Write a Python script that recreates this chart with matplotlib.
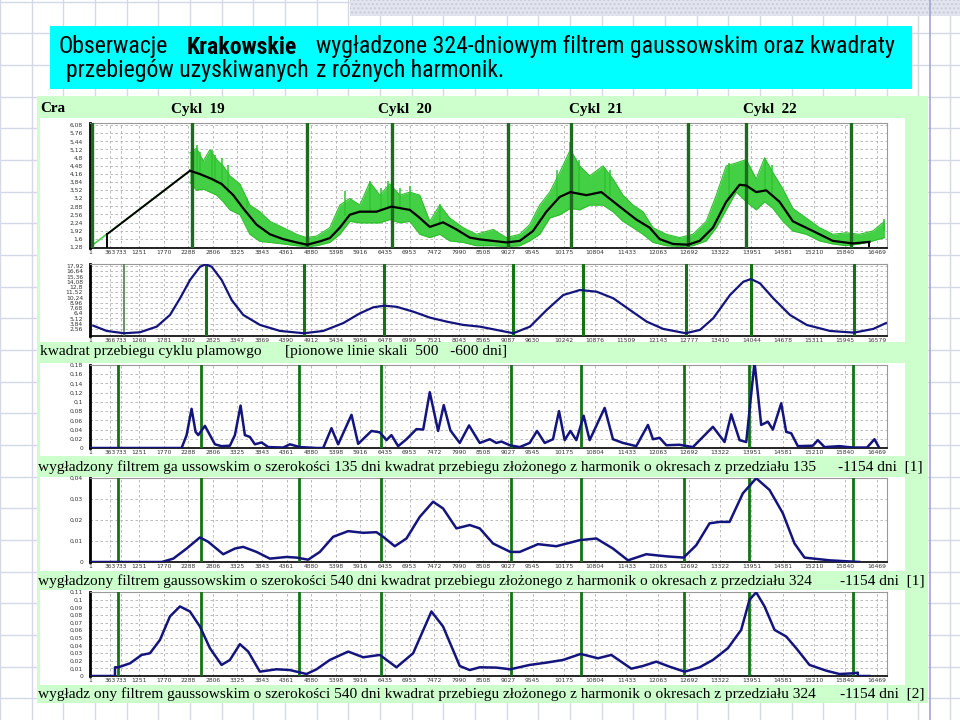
import numpy as np
import matplotlib
matplotlib.use("Agg")
import matplotlib.pyplot as plt
from matplotlib.patches import Rectangle
from matplotlib import font_manager as fm

# ---------------- text ----------------
title_l1 = ["Obserwacje", "Krakowskie", "wygładzone 324-dniowym filtrem gaussowskim oraz kwadraty"]
title_l2 = ["przebiegów uzyskiwanych", "z różnych harmonik."]
header_left = "Cra"
header_cycles = ["Cykl  19", "Cykl  20", "Cykl  21", "Cykl  22"]
row2_a = "kwadrat przebiegu cyklu plamowgo"
row2_b = "[pionowe linie skali  500   -600 dni]"
row3_a = "wygładzony filtrem ga ussowskim o szerokości 135 dni kwadrat przebiegu złożonego z harmonik o okresach z przedziału 135"
row3_b = "-1154 dni  [1]"
row4_a = "wygładzony filtrem gaussowskim o szerokości 540 dni kwadrat przebiegu złożonego z harmonik o okresach z przedziału 324"
row4_b = "-1154 dni  [1]"
row5_a = "wygładz ony filtrem gaussowskim o szerokości 540 dni kwadrat przebiegu złożonego z harmonik o okresach z przedziału 324"
row5_b = "-1154 dni  [2]"

# ---------------- axes ticks ----------------
xtick_labels_a = ["1", "363", "733", "1251", "1770", "2288", "2806", "3325", "3843", "4361", "4880",
                  "5398", "5916", "6435", "6953", "7472", "7990", "8508", "9027", "9545", "10175",
                  "10804", "11433", "12063", "12692", "13322", "13951", "14581", "15210", "15840", "16469"]
xtick_labels_b = ["1", "366", "733", "1260", "1781", "2302", "2825", "3347", "3869", "4390", "4912",
                  "5434", "5956", "6478", "6999", "7521", "8043", "8565", "9087", "9630", "10242",
                  "10876", "11509", "12143", "12777", "13410", "14044", "14678", "15311", "15945", "16579"]
xtick_days = [0, 420, 650, 1028, 1544, 2060, 2576, 3092, 3608, 4124, 4640, 5156, 5672, 6188, 6704,
              7220, 7737, 8253, 8769, 9285, 9941, 10596, 11252, 11909, 12565, 13220, 13877, 14533,
              15190, 15844, 16501]

p1_yticks = [1.28, 1.60, 1.92, 2.24, 2.56, 2.88, 3.20, 3.52, 3.84, 4.16, 4.48, 4.80, 5.12, 5.44, 5.76, 6.08]
p2_yticks = [2.56, 3.84, 5.12, 6.40, 7.68, 8.96, 10.24, 11.52, 12.80, 14.08, 15.36, 16.64, 17.92]
p3_yticks = [0, 0.02, 0.04, 0.06, 0.08, 0.10, 0.12, 0.14, 0.16, 0.18]
p4_yticks = [0, 0.01, 0.02, 0.03, 0.04]
p5_yticks = [0, 0.01, 0.02, 0.03, 0.04, 0.05, 0.06, 0.07, 0.08, 0.09, 0.10, 0.11]

# ---------------- panel 1: observations (days, values) ----------------
p1_ramp_days = [35, 2096]
p1_ramp_vals = [1.33, 4.28]
p1_start_day = 356
p1_start_val = 1.78
p1_end_day = 16352
p1_end_val = 1.48
p1_smooth_days = [2096, 2306, 2551, 2760, 3005, 3214, 3494, 3774, 4053, 4333, 4556, 4822, 5031, 5241,
                  5451, 5660, 6010, 6324, 6709, 6883, 7128, 7407, 7687, 7966, 8176, 8735, 9015, 9294,
                  9574, 9853, 10077, 10413, 10727, 11111, 11460, 11740, 11950, 12229, 12544, 12788,
                  13068, 13347, 13627, 13767, 13976, 14186, 14465, 14745, 15164, 15584, 16003, 16352]
p1_smooth_vals = [4.28, 4.15, 3.96, 3.76, 3.32, 2.80, 2.16, 1.78, 1.59, 1.46, 1.37, 1.50, 1.63, 2.04,
                  2.55, 2.67, 2.67, 2.87, 2.74, 2.48, 2.07, 2.25, 1.97, 1.65, 1.58, 1.46, 1.52, 1.91,
                  2.67, 3.25, 3.44, 3.32, 3.44, 2.87, 2.36, 2.04, 1.59, 1.40, 1.37, 1.52,
                  2.04, 3.06, 3.73, 3.70, 3.44, 3.51, 3.06, 2.29, 1.91, 1.52, 1.42, 1.48]
p1_env_days = [2096, 2236, 2376, 2516, 2656, 2795, 2935, 3145, 3354, 3564, 3774, 4053, 4333, 4542,
               4752, 5031, 5241, 5451, 5660, 5870, 6080, 6289, 6499, 6709, 6918, 7128, 7338, 7547,
               7827, 8106, 8456, 8735, 9015, 9224, 9434, 9644, 9853, 10077, 10273, 10482, 10762,
               10971, 11181, 11391, 11600, 11810, 12090, 12369, 12648, 12928, 13138, 13347, 13557,
               13767, 13976, 14151, 14326, 14535, 14745, 15025, 15304, 15584, 15863, 16143, 16422, 16667]
p1_env_upper = [4.98, 5.17, 4.66, 5.11, 4.72, 4.47, 4.08, 3.76, 2.93, 2.67, 2.29, 2.04, 1.78, 1.65,
                1.71, 2.04, 2.93, 3.19, 2.93, 3.83, 3.32, 3.76, 3.32, 3.44, 3.32, 2.29, 2.93, 2.42,
                2.04, 1.78, 1.97, 1.65, 1.78, 2.16, 2.93, 3.44, 4.21, 5.11, 4.47, 4.08, 4.47,
                3.96, 3.32, 2.93, 2.67, 2.04, 1.78, 1.65, 1.78, 2.29, 3.32, 4.47, 4.59,
                4.72, 3.96, 4.79, 4.21, 3.57, 2.80, 2.42, 2.04, 1.78, 1.84, 1.78, 1.91, 2.29]
p1_env_lower = [3.83, 3.51, 3.56, 3.44, 3.32, 3.06, 2.74, 2.55, 1.78, 1.50, 1.46, 1.40, 1.33, 1.30,
                1.33, 1.46, 1.78, 2.29, 2.23, 2.23, 2.23, 2.36, 2.23, 2.29, 1.78, 1.65, 1.78, 1.52,
                1.46, 1.33, 1.33, 1.30, 1.33, 1.52, 1.78, 2.42, 2.55, 2.80, 2.74, 2.93, 2.93,
                2.67, 2.29, 2.04, 1.78, 1.46, 1.33, 1.30, 1.33, 1.52, 2.04, 2.74, 3.44,
                3.06, 2.74, 3.06, 2.80, 2.29, 1.91, 1.78, 1.52, 1.40, 1.33, 1.40, 1.52, 1.65]
p1_spike_days = [2131, 2236, 2306, 2551, 2620, 2760, 2900, 3300, 5350, 5870, 6100, 6254, 6500, 6720,
                 7338, 9800, 10077, 10250, 10797, 10900, 13400, 13767, 14151, 14300, 16667]
p1_spike_tops = [5.94, 5.30, 5.00, 5.11, 4.90, 4.79, 4.50, 3.20, 3.50, 3.89, 3.60, 3.89, 3.60, 3.70,
                 2.99, 4.30, 5.43, 4.70, 4.40, 4.30, 4.60, 4.79, 4.79, 4.50, 2.40]
p1_spike_bases = [4.20, 4.20, 4.10, 3.90, 3.80, 3.70, 3.40, 2.80, 2.50, 2.70, 2.70, 2.80, 2.80, 2.70,
                  2.20, 3.10, 3.40, 3.40, 3.40, 3.30, 3.20, 3.60, 3.50, 3.40, 1.90]
p1_cycle_lines = [42, 2140, 4552, 6335, 8775, 10084, 12551, 13755, 15964]

# ---------------- panel 2: squared cycle ----------------
p2_days = [69, 350, 713, 1049, 1399, 1678, 1888, 2098, 2308, 2427, 2553, 2763, 2972, 3216, 3566,
           3986, 4489, 4894, 5314, 5664, 5943, 6174, 6434, 6782, 7132, 7483, 7831, 8181, 8532,
           8880, 9230, 9580, 9929, 10279, 10629, 10978, 11328, 11678, 12026, 12496, 12796, 13075,
           13426, 13705, 13866, 14055, 14334, 14684, 15035, 15523, 16027, 16432, 16698]
p2_vals = [3.37, 2.09, 1.53, 1.77, 3.13, 5.97, 10.0, 14.45, 17.68, 18.26, 17.68, 14.45, 9.6, 5.97,
           3.55, 2.09, 1.53, 2.09, 4.0, 6.38, 7.83, 8.22, 7.95, 6.77, 5.32, 4.35, 3.55, 3.13, 2.33,
           1.53, 3.13, 7.18, 10.82, 12.03, 11.62, 10.02, 7.18, 4.35, 2.58, 1.53, 2.33, 5.17,
           10.82, 14.04, 14.7, 13.65, 10.02, 5.97, 3.55, 2.09, 1.68, 2.58, 4.0]
p2_cycle_lines = [713, 2427, 4489, 6174, 8880, 10348, 12496, 13866, 16027]

# ---------------- panel 3: 135 dni ----------------
p3_days = [0, 1922, 2027, 2131, 2215, 2271, 2411, 2516, 2621, 2760, 2935, 3040, 3159, 3249, 3354,
           3459, 3599, 3739, 4053, 4193, 4403, 4752, 4892, 5066, 5206, 5486, 5626, 5905, 6080, 6219,
           6324, 6464, 6639, 6849, 6990, 7128, 7303, 7421, 7561, 7757, 7952, 8176, 8386, 8525, 8631,
           8805, 9015, 9224, 9378, 9539, 9713, 9839, 9958, 10077, 10203, 10356, 10482, 10797, 10971,
           11181, 11460, 11705, 11810, 11950, 12090, 12369, 12648, 13068, 13312, 13452, 13627, 13767,
           13941, 14081, 14221, 14326, 14501, 14605, 14710, 14850, 15164, 15269, 15409, 15723, 16003,
           16300, 16457, 16548]
p3_vals = [0, 0, 0.028, 0.085, 0.035, 0.028, 0.048, 0.028, 0.008, 0.004, 0.005, 0.028, 0.092, 0.028,
           0.024, 0.008, 0.012, 0.002, 0.001, 0.008, 0.002, 0, 0, 0.043, 0.008, 0.072, 0.009, 0.037,
           0.034, 0.017, 0.028, 0.004, 0.019, 0.041, 0.040, 0.121, 0.037, 0.093, 0.038, 0.011, 0.049,
           0.011, 0.019, 0.011, 0.014, 0.006, 0.002, 0.011, 0.037, 0.011, 0.019, 0.080, 0.017, 0.037,
           0.017, 0.070, 0.017, 0.087, 0.019, 0.011, 0.004, 0.050, 0.019, 0.022, 0.006, 0.007, 0.002,
           0.046, 0.013, 0.073, 0.017, 0.013, 0.186, 0.050, 0.057, 0.040, 0.097, 0.035, 0.032, 0.004,
           0.005, 0.017, 0.002, 0.004, 0.001, 0.001, 0.019, 0.002]

# ---------------- panel 4: 540 dni [1] ----------------
p4_days = [0, 1503, 1747, 2027, 2306, 2481, 2795, 3040, 3214, 3494, 3774, 4123, 4333, 4577, 4822,
           5101, 5416, 5731, 6010, 6150, 6394, 6639, 6918, 7198, 7407, 7687, 7966, 8176, 8456, 8819,
           9015, 9399, 9783, 10273, 10622, 10971, 11286, 11670, 12090, 12453, 12718, 12997, 13207,
           13417, 13696, 13976, 14256, 14535, 14780, 14990, 15514, 16143]
p4_vals = [0, 0, 0.0016, 0.0064, 0.0117, 0.0096, 0.0037, 0.0064, 0.0072, 0.0048, 0.0016, 0.0024,
           0.0021, 0.0011, 0.0048, 0.0120, 0.0147, 0.0139, 0.0142, 0.0120, 0.0075, 0.0112, 0.0215,
           0.0287, 0.0255, 0.0160, 0.0176, 0.0160, 0.0088, 0.0048, 0.0048, 0.0085, 0.0075, 0.0104,
           0.0112, 0.0064, 0.0008, 0.0037, 0.0027, 0.0021, 0.0080, 0.0184, 0.0191, 0.0191, 0.0327,
           0.0399, 0.0343, 0.0232, 0.0088, 0.0021, 0.0008, 0]

# ---------------- panel 5: 540 dni [2] ----------------
p5_days = [0, 524, 524, 594, 839, 1083, 1258, 1468, 1677, 1887, 2096, 2306, 2516, 2760, 2935, 3145,
           3319, 3564, 3913, 4193, 4542, 4752, 5031, 5416, 5731, 6080, 6429, 6779, 7163, 7407, 7757,
           7966, 8176, 8525, 8819, 9224, 9574, 9923, 10294, 10657, 10936, 11356, 11600, 11880, 12160,
           12474, 12788, 13068, 13382, 13661, 13836, 13976, 14151, 14361, 14605, 14815, 15094, 15444,
           15723, 16003, 16108, 16108, 16352]
p5_vals = [0, 0, 0.0114, 0.0114, 0.0166, 0.0276, 0.0298, 0.0473, 0.0780, 0.0911, 0.0845, 0.0648,
           0.0364, 0.0145, 0.0210, 0.0417, 0.0320, 0.0057, 0.0088, 0.0078, 0.0026, 0.0088, 0.0210,
           0.0320, 0.0245, 0.0276, 0.0114, 0.0298, 0.0845, 0.0648, 0.0131, 0.0078, 0.0114, 0.0110,
           0.0088, 0.0145, 0.0175, 0.0210, 0.0289, 0.0232, 0.0276, 0.0096, 0.0131, 0.0188, 0.0122,
           0.0057, 0.0114, 0.0210, 0.0364, 0.0604, 0.0999, 0.1095, 0.0911, 0.0604, 0.0517, 0.0364,
           0.0145, 0.0070, 0.0026, 0.0035, 0.0044, 0, 0]
p345_cycle_lines = [594, 2322, 4391, 6098, 8825, 10300, 12461, 13830, 16012]

# ============================================================
W, H = 960, 720
fig = plt.figure(figsize=(9.6, 7.2), dpi=100)
fig.patch.set_facecolor("white")
renderer = fig.canvas.get_renderer()


def pick_font(cands, default):
    for f in cands:
        try:
            fm.findfont(fm.FontProperties(family=f), fallback_to_default=False)
            return f
        except Exception:
            pass
    return default


title_font = pick_font(["Liberation Sans Narrow", "Roboto Condensed", "Open Sans Condensed"], "Liberation Sans")
serif = pick_font(["Liberation Serif", "Times New Roman"], "DejaVu Serif")

bg = fig.add_axes([0, 0, 1, 1], zorder=0)
bg.set_xlim(0, W)
bg.set_ylim(H, 0)
bg.axis("off")

# slide notebook grid
step = 31.67
for k in range(32):
    bg.plot([k * step, k * step], [0, H], color="#d3d9e6", lw=1.0, zorder=1)
    bg.plot([0, W], [1.7 + k * step, 1.7 + k * step], color="#d3d9e6", lw=1.0, zorder=1)
bg.add_patch(Rectangle((350, 0), 610, 16, facecolor="#e3e5ee", edgecolor="#c8cbd9",
                       hatch="....", lw=0, zorder=2))
bg.plot([930, 930], [0, H], color="#a4a4d4", lw=1.2, zorder=2)

# green composite + white chart areas
bg.add_patch(Rectangle((37, 96), 891, 607, facecolor="#ccffcc", edgecolor="none", zorder=3))
for top, bot in [(118, 258), (258, 342), (363, 456), (477, 571), (590, 685)]:
    bg.add_patch(Rectangle((40, top), 865, bot - top, facecolor="white", edgecolor="none", zorder=4))

# cyan title box
bg.add_patch(Rectangle((50, 26), 862, 63, facecolor="#00ffff", edgecolor="none", zorder=5))


def fit_size(s, width, **kw):
    t = bg.text(0, -100, s, fontsize=20, **kw)
    w = t.get_window_extent(renderer).width
    t.remove()
    return 20 * width / w


fs_title = fit_size(title_l1[2], 580, family=title_font)
bg.text(58, 47, title_l1[0], fontsize=fs_title, family=title_font, va="center", zorder=6)
bg.text(242, 47, title_l1[1], fontsize=fs_title, family=title_font, weight="bold", va="center",
        ha="center", zorder=6)
bg.text(316, 47, title_l1[2], fontsize=fs_title, family=title_font, va="center", zorder=6)
bg.text(66, 71, title_l2[0], fontsize=fs_title, family=title_font, va="center", zorder=6)
bg.text(316, 71, title_l2[1], fontsize=fs_title, family=title_font, va="center", zorder=6)

fs_head = fit_size(header_cycles[0], 54, family=serif, weight="bold")
bg.text(40, 109, header_left, fontsize=fs_head, family=serif, weight="bold", va="center", zorder=6)
for cx, s in zip([198, 405, 596, 770], header_cycles):
    bg.text(cx, 109, s, fontsize=fs_head, family=serif, weight="bold", va="center", ha="center", zorder=6)

fs_row = fit_size(row4_a, 772, family=serif)
rows = [(352, row2_a, 40, row2_b, 285), (467, row3_a, 38, row3_b, 838),
        (581, row4_a, 38, row4_b, 840), (694, row5_a, 38, row5_b, 840)]
for y, a, xa, b, xb in rows:
    bg.text(xa, y, a, fontsize=fs_row, family=serif, va="center", zorder=6)
    bg.text(xb, y, b, fontsize=fs_row, family=serif, va="center", zorder=6)


# ---------------- chart axes ----------------
def make_axes(top, bot, yticks, ylim, xlabels):
    ax = fig.add_axes([90 / W, 1 - bot / H, (887 - 90) / W, (bot - top) / H], zorder=5)
    ax.set_facecolor("white")
    ax.set_xlim(0, 16720)
    ax.set_ylim(*ylim)
    ax.set_xticks(xtick_days)
    ax.set_xticklabels(xlabels)
    ax.set_yticks(yticks)
    ax.set_yticklabels([f"{v:.2f}".rstrip("0").rstrip(".").replace(".", ",") for v in yticks])
    ax.tick_params(axis="both", length=0, labelsize=4.3, colors="#333333")
    ax.tick_params(axis="x", pad=1.5)
    ax.tick_params(axis="y", pad=5)
    ax.grid(True, ls=(0, (3, 3)), color="#b0b0b0", lw=0.6)
    ax.set_axisbelow(True)
    for side in ["top", "right"]:
        ax.spines[side].set_color("#999999")
        ax.spines[side].set_linewidth(0.8)
    ax.spines["left"].set_color("black")
    ax.spines["left"].set_linewidth(2.0)
    ax.spines["bottom"].set_color("black")
    ax.spines["bottom"].set_linewidth(1.2)
    return ax


navy = "#14147e"
dgreen = "#137313"
lgreen = "#44d044"

# panel 1
ax1 = make_axes(123, 248, p1_yticks, (1.24, 6.16), xtick_labels_a)
ax1.fill_between(p1_env_days, p1_env_lower, p1_env_upper, color=lgreen, lw=0, zorder=2)
ax1.plot(p1_env_days, p1_env_upper, color="#30bf30", lw=0.8, zorder=2)
ax1.plot(p1_env_days, p1_env_lower, color="#30bf30", lw=0.8, zorder=2)
ax1.vlines(p1_spike_days, p1_spike_bases, p1_spike_tops, color="#30c430", lw=1.1, zorder=2)
ax1.plot(p1_ramp_days, p1_ramp_vals, color=lgreen, lw=1.2, zorder=2)
for d in p1_cycle_lines:
    ax1.axvline(d, color="#1e6a1e", lw=2.4, zorder=3)
ax1.plot([p1_start_day, p1_ramp_days[1]],
         [p1_start_val, p1_ramp_vals[1]], color="black", lw=1.4, zorder=4)
ax1.plot([p1_start_day, p1_start_day], [1.24, p1_start_val], color="black", lw=1.4, zorder=4)
ax1.plot(p1_smooth_days, p1_smooth_vals, color="black", lw=1.6, zorder=4)
ax1.plot([p1_end_day, p1_end_day], [1.33, p1_end_val], color="black", lw=1.4, zorder=4)

# panel 2
ax2 = make_axes(264, 336, p2_yticks, (0.86, 18.35), xtick_labels_b)
for i, d in enumerate(p2_cycle_lines):
    ax2.axvline(d, color=dgreen if i else "#4f7f4f", lw=2.2 if i else 1.2, zorder=3)
ax2.plot(p2_days, p2_vals, color=navy, lw=1.6, zorder=4)

# panel 3
ax3 = make_axes(365, 448, p3_yticks, (0, 0.18), xtick_labels_a)
for d in p345_cycle_lines:
    ax3.axvline(d, color=dgreen, lw=2.0, zorder=3)
ax3.plot(p3_days, p3_vals, color=navy, lw=1.8, zorder=4)

# panel 4
ax4 = make_axes(478, 562, p4_yticks, (0, 0.04), xtick_labels_a)
for d in p345_cycle_lines:
    ax4.axvline(d, color=dgreen, lw=2.0, zorder=3)
ax4.plot(p4_days, p4_vals, color=navy, lw=1.8, zorder=4)

# panel 5
ax5 = make_axes(592, 676, p5_yticks, (0, 0.11), xtick_labels_a)
for d in p345_cycle_lines:
    ax5.axvline(d, color=dgreen, lw=2.0, zorder=3)
ax5.plot(p5_days, p5_vals, color=navy, lw=1.8, zorder=4)

fig.savefig("out.png", dpi=100)
